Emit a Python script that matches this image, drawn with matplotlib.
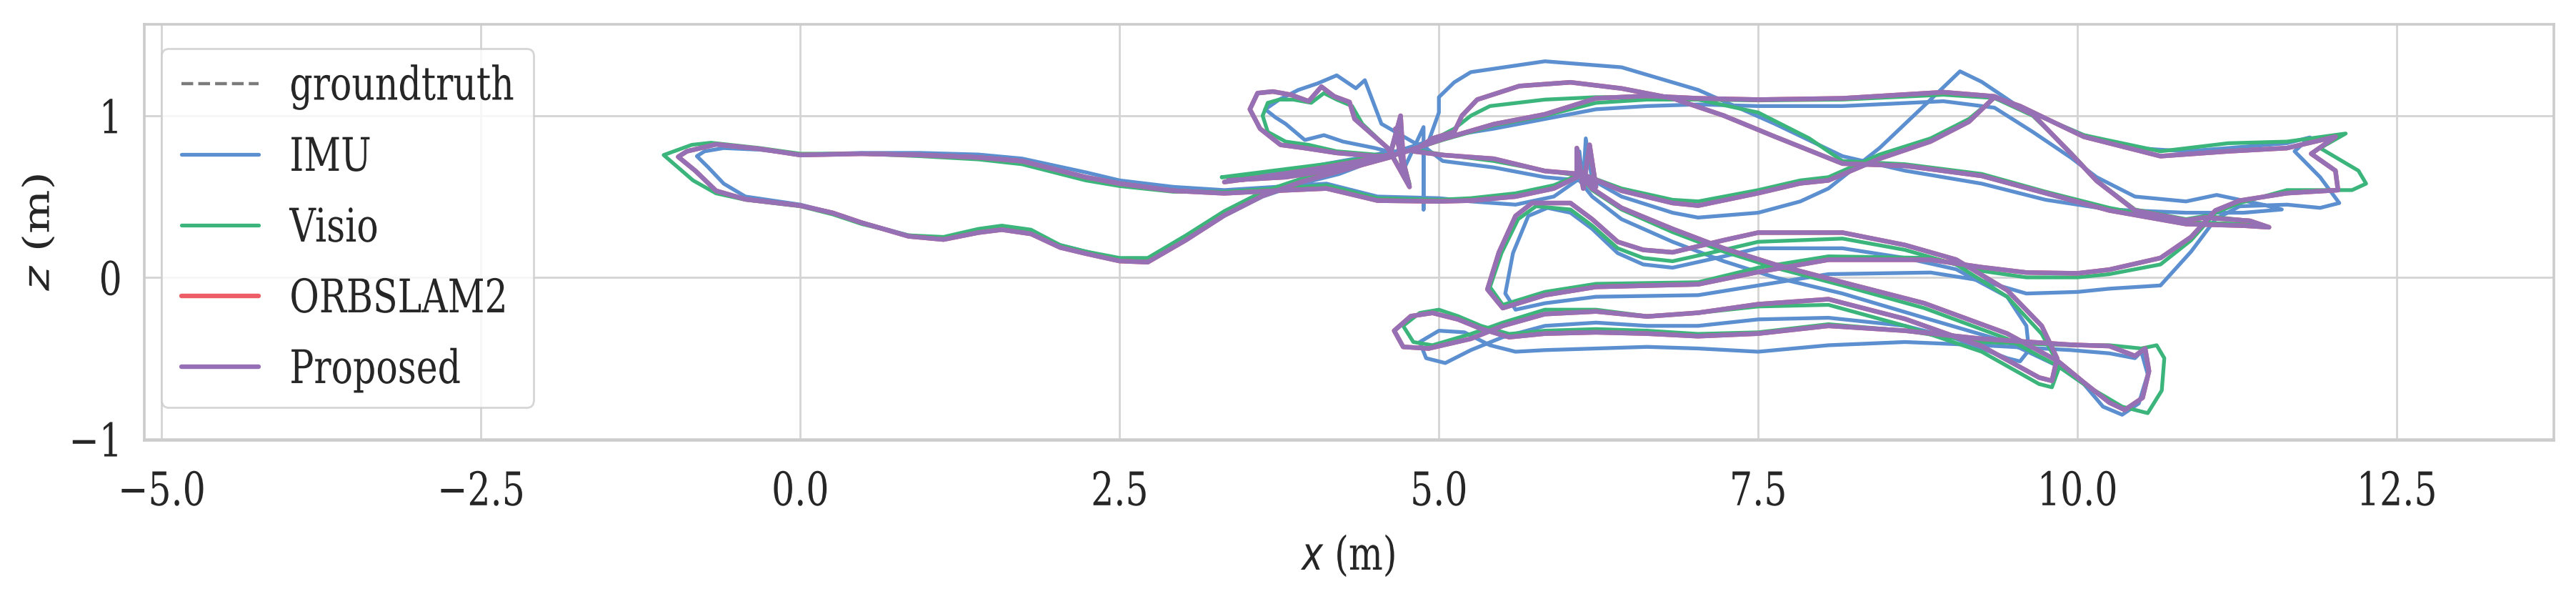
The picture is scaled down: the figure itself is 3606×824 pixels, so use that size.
import numpy as np
import matplotlib
matplotlib.use("Agg")
import matplotlib.pyplot as plt
from matplotlib.patheffects import AbstractPathEffect
from matplotlib.transforms import Affine2D

# trajectories, (x, z) in metres
gt_xz = [
    (3.32, 0.59), (3.70, 0.63), (4.10, 0.68), (4.45, 0.73), (4.62, 0.76), (4.70, 1.00), (4.73, 0.62),
    (4.66, 0.92), (4.77, 0.56), (4.60, 0.80), (4.34, 0.98), (4.30, 1.085), (4.18, 1.12), (4.08, 1.18),
    (3.98, 1.09), (3.84, 1.13), (3.70, 1.15), (3.58, 1.14), (3.52, 1.04), (3.60, 0.92), (3.76, 0.82),
    (3.95, 0.80), (4.20, 0.77), (4.50, 0.75), (4.65, 0.75),
    (4.22, 0.658), (3.92, 0.59), (3.62, 0.505), (3.32, 0.384), (3.02, 0.231), (2.72, 0.094), (2.50, 0.101),
    (2.235, 0.147), (2.034, 0.185), (1.806, 0.269), (1.578, 0.295), (1.395, 0.277), (1.121, 0.234),
    (0.847, 0.254), (0.482, 0.338), (0.254, 0.399), (0.0, 0.444), (-0.43, 0.483), (-0.66, 0.536),
    (-0.82, 0.658), (-0.956, 0.746), (-0.888, 0.78), (-0.66, 0.823), (-0.317, 0.795), (0.0, 0.757),
    (0.48, 0.765), (0.94, 0.757), (1.395, 0.742), (1.737, 0.719), (2.235, 0.62), (2.50, 0.58),
    (2.92, 0.536), (3.32, 0.52), (3.72, 0.536), (4.12, 0.55), (4.52, 0.475), (5.0, 0.47), (5.25, 0.475),
    (5.6, 0.50), (5.9, 0.55), (6.08, 0.62), (6.08, 0.80), (6.13, 0.55), (6.18, 0.82), (6.23, 0.56),
    (6.12, 0.64),
    (6.43, 0.536), (6.83, 0.46), (7.03, 0.444), (7.50, 0.521), (7.83, 0.582), (8.05, 0.60), (8.45, 0.734),
    (8.85, 0.841), (9.15, 0.963), (9.35, 1.115), (9.55, 1.06), (10.05, 0.87), (10.65, 0.75), (11.18, 0.78),
    (11.64, 0.80), (12.02, 0.87), (11.83, 0.765), (12.02, 0.66), (12.04, 0.54), (11.64, 0.521),
    (11.27, 0.475), (11.08, 0.414), (10.89, 0.25), (10.65, 0.12), (10.25, 0.048), (10.0, 0.025),
    (9.60, 0.03), (9.25, 0.063), (8.85, 0.109), (8.05, 0.109), (7.50, 0.033), (7.03, -0.043),
    (6.23, -0.059), (5.83, -0.11), (5.50, -0.19), (5.38, -0.074), (5.47, 0.155), (5.60, 0.38),
    (5.73, 0.46), (6.03, 0.46), (6.20, 0.36), (6.40, 0.22), (6.60, 0.17), (6.83, 0.155), (7.23, 0.23),
    (7.50, 0.277), (8.16, 0.277), (8.65, 0.20), (9.05, 0.11), (9.45, -0.08), (9.72, -0.30), (9.84, -0.50),
    (9.80, -0.64), (9.70, -0.62), (9.25, -0.425), (8.65, -0.257), (8.05, -0.135), (7.50, -0.166),
    (7.03, -0.219), (6.63, -0.242), (6.23, -0.211), (5.83, -0.227), (5.50, -0.30), (5.25, -0.38),
    (4.92, -0.44), (4.72, -0.43), (4.65, -0.33), (4.78, -0.24), (4.95, -0.22), (5.15, -0.26),
    (5.33, -0.318), (5.55, -0.37), (5.83, -0.348), (6.23, -0.34), (6.63, -0.348), (7.03, -0.364),
    (7.50, -0.348), (8.05, -0.30), (8.65, -0.33), (9.25, -0.38), (9.95, -0.417), (10.25, -0.425),
    (10.45, -0.486), (10.53, -0.44), (10.56, -0.58), (10.51, -0.745), (10.37, -0.82), (10.25, -0.775),
    (10.05, -0.65), (9.85, -0.52), (9.45, -0.348), (8.80, -0.16), (8.16, -0.03), (7.63, 0.08),
    (7.23, 0.18), (6.83, 0.30), (6.43, 0.43), (6.20, 0.55), (6.10, 0.64),
    (5.83, 0.658), (5.43, 0.734), (5.03, 0.757), (4.80, 0.78), (4.95, 0.86), (5.12, 0.90), (5.18, 1.0),
    (5.30, 1.10), (5.63, 1.184), (6.03, 1.207), (6.43, 1.169), (6.83, 1.108), (7.23, 1.001),
    (7.63, 0.871), (8.16, 0.704), (8.65, 0.69), (9.25, 0.628), (9.75, 0.521), (10.25, 0.414),
    (10.85, 0.33), (11.30, 0.32), (11.50, 0.31), (11.35, 0.35), (11.0, 0.37), (10.85, 0.353),
    (10.45, 0.414), (10.15, 0.597), (9.95, 0.765), (9.65, 1.009), (9.35, 1.12), (8.95, 1.146),
    (8.16, 1.108), (7.50, 1.10), (7.03, 1.108), (6.63, 1.123), (6.23, 1.108), (5.83, 1.009),
    (5.43, 0.948), (5.03, 0.856), (4.75, 0.78), (4.30, 0.68), (3.80, 0.62), (3.35, 0.60),
]

imu_xz = [
    (3.35, 0.60), (3.70, 0.64), (4.10, 0.70), (4.45, 0.75), (4.62, 0.78), (4.68, 0.95), (4.72, 0.66),
    (4.88, 0.93), (4.88, 0.42), (4.88, 0.80), (4.55, 0.95), (4.42, 1.22), (4.35, 1.17), (4.20, 1.25),
    (4.05, 1.20), (3.90, 1.16), (3.75, 1.10), (3.64, 1.04), (3.72, 0.99), (3.80, 0.95), (3.95, 0.85),
    (4.10, 0.88), (4.25, 0.84), (4.50, 0.80), (4.65, 0.77),
    (4.22, 0.64), (3.92, 0.58), (3.62, 0.50), (3.32, 0.38), (3.02, 0.23), (2.72, 0.10), (2.50, 0.11),
    (2.235, 0.16), (2.034, 0.20), (1.806, 0.28), (1.578, 0.30), (1.395, 0.28), (1.121, 0.24),
    (0.847, 0.26), (0.482, 0.34), (0.254, 0.40), (0.0, 0.45), (-0.43, 0.50), (-0.60, 0.58),
    (-0.72, 0.68), (-0.81, 0.75), (-0.75, 0.78), (-0.60, 0.80), (-0.317, 0.79), (0.0, 0.76),
    (0.48, 0.77), (0.94, 0.77), (1.395, 0.76), (1.737, 0.735), (2.235, 0.65), (2.50, 0.60),
    (2.92, 0.56), (3.32, 0.54), (3.72, 0.56), (4.12, 0.58), (4.52, 0.50), (5.0, 0.49), (5.25, 0.47),
    (5.6, 0.45), (5.9, 0.50), (6.08, 0.60), (6.10, 0.78), (6.13, 0.58), (6.15, 0.86), (6.20, 0.60),
    (6.12, 0.64),
    (6.43, 0.50), (6.83, 0.40), (7.03, 0.37), (7.50, 0.40), (7.83, 0.47), (8.05, 0.55), (8.45, 0.80),
    (8.85, 1.10), (9.08, 1.275), (9.25, 1.21), (9.55, 1.05), (10.05, 0.88), (10.45, 0.80),
    (10.85, 0.78), (11.18, 0.80), (11.64, 0.83), (11.82, 0.866), (11.70, 0.78), (11.90, 0.62),
    (12.05, 0.46), (11.90, 0.43), (11.64, 0.45), (11.27, 0.44), (11.08, 0.36), (10.89, 0.16),
    (10.65, -0.05), (10.25, -0.07), (10.0, -0.09), (9.60, -0.10), (9.25, -0.02), (8.85, 0.03),
    (8.05, 0.02), (7.50, -0.05), (7.03, -0.11), (6.23, -0.12), (5.83, -0.16), (5.60, -0.20),
    (5.52, -0.10), (5.58, 0.15), (5.70, 0.38), (5.85, 0.43), (6.03, 0.40), (6.20, 0.30), (6.40, 0.15),
    (6.60, 0.08), (6.83, 0.06), (7.23, 0.13), (7.50, 0.18), (8.16, 0.18), (8.65, 0.12), (9.05, 0.05),
    (9.45, -0.12), (9.60, -0.30), (9.62, -0.45), (9.55, -0.52), (9.45, -0.50), (9.05, -0.38),
    (8.65, -0.30), (8.05, -0.25), (7.50, -0.26), (7.03, -0.30), (6.63, -0.30), (6.23, -0.28),
    (5.83, -0.30), (5.50, -0.37), (5.25, -0.45), (5.05, -0.53), (4.90, -0.50), (4.85, -0.40),
    (5.00, -0.33), (5.20, -0.34), (5.40, -0.42), (5.60, -0.46), (5.83, -0.45), (6.23, -0.44),
    (6.63, -0.43), (7.03, -0.44), (7.50, -0.46), (8.05, -0.42), (8.65, -0.40), (9.25, -0.42),
    (9.95, -0.45), (10.25, -0.47), (10.45, -0.50), (10.50, -0.46), (10.55, -0.60), (10.48, -0.78),
    (10.35, -0.85), (10.20, -0.80), (10.05, -0.66), (9.85, -0.55), (9.45, -0.40), (8.80, -0.25),
    (8.16, -0.10), (7.63, 0.00), (7.23, 0.10), (6.83, 0.22), (6.43, 0.36), (6.20, 0.50), (6.10, 0.60),
    (5.83, 0.62), (5.43, 0.68), (5.03, 0.72), (4.90, 0.80), (5.00, 1.02), (5.00, 1.115), (5.12, 1.207),
    (5.25, 1.27), (5.83, 1.337), (6.43, 1.30), (7.03, 1.16), (7.63, 0.95), (8.16, 0.75), (8.65, 0.66),
    (9.25, 0.58), (9.75, 0.48), (10.25, 0.42), (10.85, 0.40), (11.30, 0.40), (11.60, 0.42),
    (11.45, 0.45), (11.09, 0.51), (10.85, 0.47), (10.45, 0.50), (10.15, 0.62), (9.95, 0.74),
    (9.65, 0.90), (9.35, 1.05), (8.95, 1.09), (8.16, 1.06), (7.50, 1.06), (7.03, 1.07), (6.63, 1.06),
    (6.23, 1.04), (5.83, 0.98), (5.43, 0.92), (5.03, 0.87), (4.75, 0.80), (4.30, 0.70), (3.80, 0.64),
    (3.35, 0.62),
]

visio_xz = [
    (3.30, 0.62), (3.70, 0.66), (4.10, 0.70), (4.45, 0.74), (4.62, 0.76), (4.70, 0.96), (4.73, 0.64),
    (4.66, 0.90), (4.77, 0.58), (4.60, 0.80), (4.40, 0.95), (4.32, 1.06), (4.20, 1.10), (4.10, 1.14),
    (4.00, 1.08), (3.86, 1.10), (3.75, 1.10), (3.66, 1.08), (3.62, 1.00), (3.66, 0.90), (3.80, 0.84),
    (3.98, 0.82), (4.20, 0.78), (4.50, 0.76), (4.65, 0.75),
    (4.22, 0.67), (3.92, 0.61), (3.62, 0.53), (3.32, 0.41), (3.02, 0.26), (2.72, 0.12), (2.50, 0.12),
    (2.235, 0.16), (2.034, 0.20), (1.806, 0.295), (1.578, 0.32), (1.395, 0.30), (1.121, 0.25),
    (0.847, 0.26), (0.482, 0.33), (0.254, 0.39), (0.0, 0.44), (-0.43, 0.48), (-0.66, 0.52),
    (-0.84, 0.60), (-1.07, 0.757), (-0.85, 0.82), (-0.70, 0.833), (-0.317, 0.80), (0.0, 0.765),
    (0.48, 0.765), (0.94, 0.75), (1.395, 0.73), (1.737, 0.70), (2.235, 0.60), (2.50, 0.565),
    (2.92, 0.53), (3.32, 0.53), (3.72, 0.55), (4.12, 0.57), (4.52, 0.49), (5.0, 0.48), (5.25, 0.49),
    (5.6, 0.52), (5.9, 0.57), (6.08, 0.63), (6.08, 0.78), (6.13, 0.57), (6.18, 0.78), (6.23, 0.58),
    (6.12, 0.64),
    (6.43, 0.55), (6.83, 0.48), (7.03, 0.47), (7.50, 0.54), (7.83, 0.60), (8.05, 0.62), (8.45, 0.76),
    (8.85, 0.86), (9.15, 0.98), (9.35, 1.11), (9.55, 1.05), (10.05, 0.88), (10.65, 0.78), (11.18, 0.83),
    (11.64, 0.84), (12.10, 0.89), (11.90, 0.80), (12.20, 0.66), (12.26, 0.58), (12.15, 0.54),
    (11.90, 0.54), (11.64, 0.54), (11.27, 0.46), (11.08, 0.40), (10.89, 0.23), (10.65, 0.08),
    (10.25, 0.02), (10.0, 0.00), (9.60, 0.0), (9.25, 0.04), (8.85, 0.12), (8.05, 0.13), (7.50, 0.06),
    (7.03, -0.03), (6.23, -0.04), (5.83, -0.09), (5.50, -0.17), (5.40, -0.06), (5.49, 0.15),
    (5.62, 0.36), (5.76, 0.44), (6.03, 0.42), (6.20, 0.32), (6.40, 0.18), (6.60, 0.12), (6.83, 0.10),
    (7.23, 0.17), (7.50, 0.22), (8.16, 0.24), (8.65, 0.17), (9.05, 0.08), (9.45, -0.12), (9.72, -0.35),
    (9.86, -0.55), (9.80, -0.68), (9.70, -0.66), (9.25, -0.46), (8.65, -0.30), (8.05, -0.17),
    (7.50, -0.18), (7.03, -0.22), (6.63, -0.24), (6.23, -0.20), (5.83, -0.20), (5.50, -0.28),
    (5.25, -0.35), (4.95, -0.42), (4.80, -0.40), (4.72, -0.30), (4.85, -0.22), (5.00, -0.20),
    (5.15, -0.24), (5.33, -0.30), (5.55, -0.35), (5.83, -0.33), (6.23, -0.32), (6.63, -0.33),
    (7.03, -0.35), (7.50, -0.34), (8.05, -0.29), (8.65, -0.33), (9.25, -0.40), (9.95, -0.42),
    (10.25, -0.42), (10.50, -0.44), (10.62, -0.42), (10.68, -0.50), (10.66, -0.70), (10.55, -0.84),
    (10.35, -0.80), (10.05, -0.66), (9.85, -0.55), (9.45, -0.38), (8.80, -0.19), (8.16, -0.05),
    (7.63, 0.06), (7.23, 0.16), (6.83, 0.28), (6.43, 0.42), (6.20, 0.54), (6.10, 0.63),
    (5.83, 0.66), (5.43, 0.72), (5.03, 0.76), (4.80, 0.79), (4.95, 0.85), (5.12, 0.92), (5.25, 1.00),
    (5.40, 1.06), (5.83, 1.10), (6.23, 1.115), (6.63, 1.115), (7.03, 1.10), (7.50, 1.02), (7.90, 0.86),
    (8.16, 0.72), (8.65, 0.70), (9.25, 0.64), (9.75, 0.53), (10.25, 0.43), (10.85, 0.34), (11.30, 0.33),
    (11.50, 0.31), (11.35, 0.35), (11.0, 0.38), (10.85, 0.36), (10.45, 0.42), (10.15, 0.60),
    (9.95, 0.77), (9.65, 1.00), (9.35, 1.11), (8.95, 1.13), (8.16, 1.10), (7.50, 1.095), (7.03, 1.10),
    (6.63, 1.10), (6.23, 1.08), (5.83, 1.00), (5.43, 0.94), (5.03, 0.85), (4.75, 0.78), (4.30, 0.68),
    (3.80, 0.63), (3.30, 0.62),
]

# ORBSLAM2 and the proposed method sit on the groundtruth at this scale
orb_xz = gt_xz
prop_xz = gt_xz

x_ticks = [-5.0, -2.5, 0.0, 2.5, 5.0, 7.5, 10.0, 12.5]
z_ticks = [-1, 0, 1]

series = [
    ("groundtruth", gt_xz, "#7b7b7b", "--", 1.6),
    ("IMU", imu_xz, "#5b8fd0", "-", 1.9),
    ("Visio", visio_xz, "#3bb57b", "-", 1.9),
    ("ORBSLAM2", orb_xz, "#ec5d66", "-", 2.3),
    ("Proposed", prop_xz, "#9570b5", "-", 2.3),
]

SQ = 0.78       # the source image is squashed horizontally
FS = 18.2       # font size used for layout
TXT = "#262626"


class Stretch(AbstractPathEffect):
    # scale text outlines in their own frame, about the cap-height middle
    def __init__(self, sx=1.0, sy=1.0, cy=36.45):
        super().__init__()
        self.sx, self.sy, self.cy = sx, sy, cy

    def draw_path(self, renderer, gc, tpath, affine, rgbFace=None):
        ext = tpath.get_extents()
        cx = (ext.x0 + ext.x1) / 2
        t = Affine2D().translate(-cx, -self.cy).scale(self.sx, self.sy).translate(cx, self.cy)
        renderer.draw_path(gc, tpath, t + affine, rgbFace)


plt.rcParams["font.family"] = "DejaVu Serif"

fig = plt.figure(figsize=(18.03, 4.12), dpi=200)
ax = fig.add_axes([0.0560, 0.2525, 0.9354, 0.7060])

for name, xz, col, ls, lw in series:
    arr = np.array(xz)
    ax.plot(arr[:, 0], arr[:, 1], color=col, linestyle=ls, linewidth=lw, label=name,
            solid_joinstyle="round", solid_capstyle="round")

ax.set_xlim(-5.137, 13.73)
ax.set_ylim(-1.008, 1.565)
ax.set_xticks(x_ticks)
ax.set_yticks(z_ticks)
ax.grid(True, color="#d4d4d4", linewidth=1.0)
ax.set_axisbelow(True)
for sp in ax.spines.values():
    sp.set_color("#cccccc")
    sp.set_linewidth(1.3)

ax.tick_params(axis="x", length=0, pad=17.0, labelsize=FS, labelcolor=TXT)
ax.tick_params(axis="y", length=0, pad=11.2, labelsize=FS, labelcolor=TXT)
for lbl in ax.get_xticklabels() + ax.get_yticklabels():
    lbl.set_path_effects([Stretch(sy=1 / SQ)])

ax.set_xlabel("$x$ (m)", fontsize=FS, color=TXT)
ax.xaxis.set_label_coords(0.5, -0.2338)
ax.xaxis.label.set_path_effects([Stretch(sy=1 / SQ)])
ax.set_ylabel("$z$ (m)", fontsize=FS, color=TXT)
ax.yaxis.set_label_coords(-0.0363, 0.5)
ax.yaxis.label.set_path_effects([Stretch(sx=1 / SQ)])

leg = ax.legend(loc="upper left", bbox_to_anchor=(0.0071, 0.9419), borderaxespad=0,
                fontsize=FS, handlelength=2.15, handletextpad=0.85, labelspacing=0.98,
                borderpad=0.55, fancybox=True, framealpha=0.8, edgecolor="#cccccc")
for t in leg.get_texts():
    t.set_color(TXT)
    t.set_path_effects([Stretch(sy=1 / SQ)])

fig.savefig("out.png", dpi=200)
